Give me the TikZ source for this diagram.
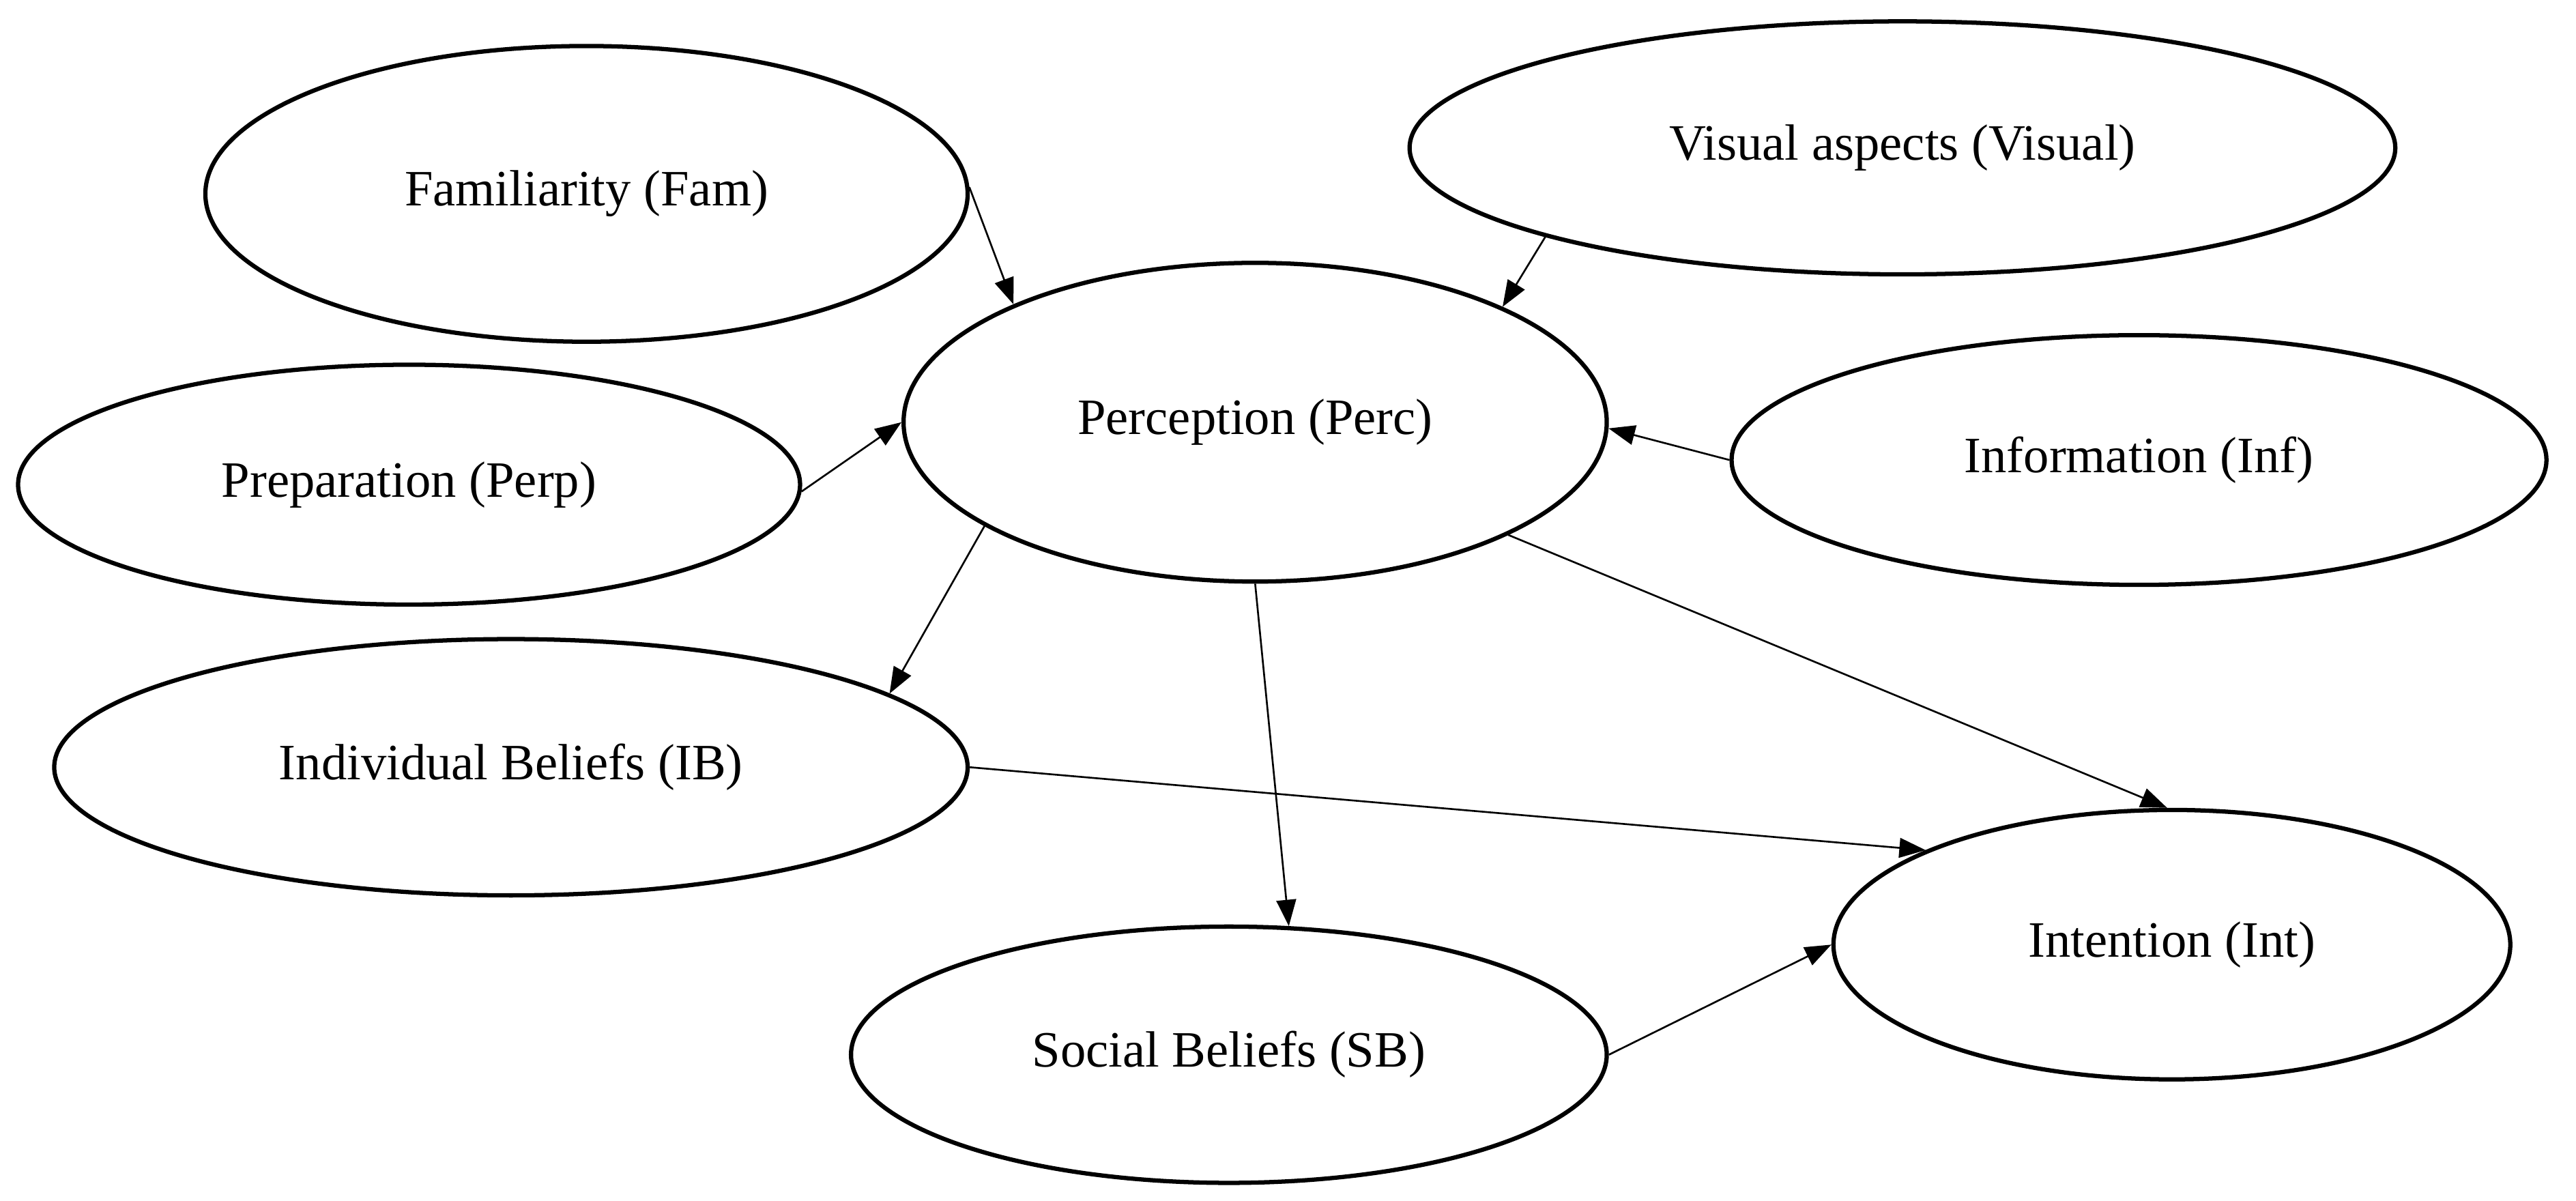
\documentclass[tikz,border=0pt]{standalone}
\usepackage{fontspec}
\setmainfont{Liberation Serif}
\usetikzlibrary{shapes.geometric,arrows.meta}
\begin{document}
\begin{tikzpicture}[x=1pt,y=-1pt,
  el/.style={ellipse,draw,line width=2.6pt,inner sep=0pt,font=\fontsize{31}{36}\selectfont},
  ar/.style={-{Triangle[length=16pt,width=12pt]},line width=1.1pt}]
\useasboundingbox (0,0) rectangle (1568,731);
\node[el,minimum width=464,minimum height=180] (fam) at (357,118) {Familiarity (Fam)};
\node[el,minimum width=600,minimum height=154] (vis) at (1158,90) {Visual aspects (Visual)};
\node[el,minimum width=428,minimum height=194] (perc) at (764,257) {Perception (Perc)};
\node[el,minimum width=476,minimum height=146] (prep) at (249,295) {Preparation (Perp)};
\node[el,minimum width=496,minimum height=152] (inf) at (1302,280) {Information (Inf)};
\node[el,minimum width=556,minimum height=156] (ib) at (311,467) {Individual Beliefs (IB)};
\node[el,minimum width=412,minimum height=164] (int) at (1322,575) {Intention (Int)};
\node[el,minimum width=460,minimum height=156] (sb) at (748,642) {Social Beliefs (SB)};
\draw[ar] (fam.1) -- (perc.154.7);
\draw[ar] (vis.194.7) -- (perc.25);
\draw[ar] (prep.-1) -- (perc.180);
\draw[ar] (inf.180) -- (perc.-1.3);
\draw[ar] (perc.201.5) -- (ib.11.8);
\draw[ar] (perc.270) -- (sb.65);
\draw[ar] (perc.-24.7) -- (int.92.8);
\draw[ar] (ib.0) -- (int.159.4);
\draw[ar] (sb.0) -- (int.180.8);
\end{tikzpicture}
\end{document}
